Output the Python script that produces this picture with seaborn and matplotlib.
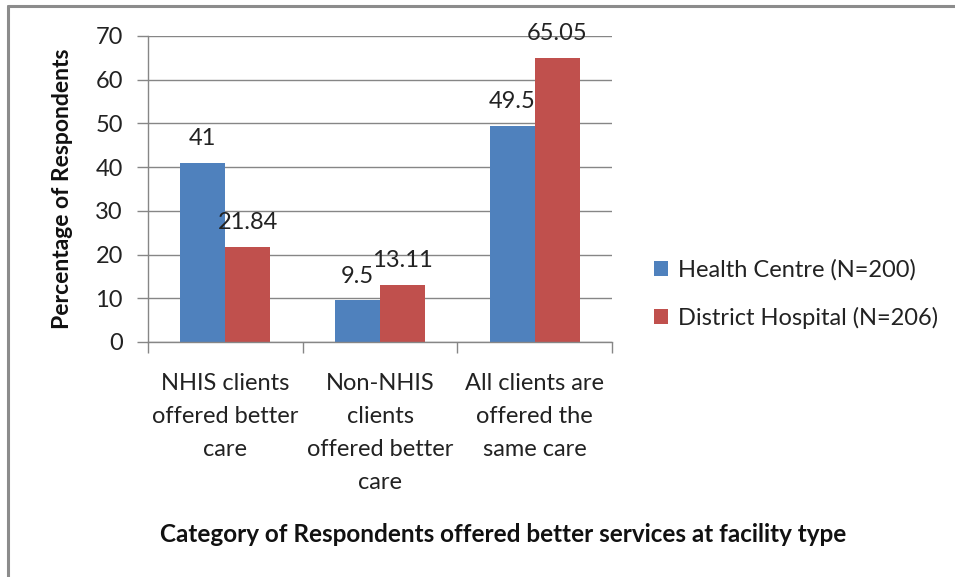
import matplotlib
matplotlib.use("Agg")
import matplotlib.pyplot as plt
from matplotlib.lines import Line2D
import seaborn as sns
import pandas as pd

categories = [
    "NHIS clients\noffered better\ncare",
    "Non-NHIS\nclients\noffered better\ncare",
    "All clients are\noffered the\nsame care",
]
series_names = ["Health Centre (N=200)", "District Hospital (N=206)"]
health_centre = [41, 9.5, 49.5]
district_hospital = [21.84, 13.11, 65.05]
y_ticks = [0, 10, 20, 30, 40, 50, 60, 70]

colors = ["#4F81BD", "#C0504D"]

sns.set_theme(style="white")
plt.rcParams["font.family"] = ["Lato", "DejaVu Sans"]

df = pd.DataFrame({
    "category": categories * 2,
    "series": [series_names[0]] * 3 + [series_names[1]] * 3,
    "value": health_centre + district_hospital,
})

fig = plt.figure(figsize=(9.55, 5.77), dpi=100)
ax = fig.add_axes([148 / 955, 1 - 342 / 577, (612 - 148) / 955, (342 - 36) / 577])

sns.barplot(data=df, x="category", y="value", hue="series", order=categories,
            hue_order=series_names, palette=colors, width=0.58, gap=0,
            saturation=1, errorbar=None, linewidth=0, ax=ax, legend=True)

for cont in ax.containers:
    ax.bar_label(cont, labels=[f"{v:g}" for v in cont.datavalues],
                 padding=10, fontsize=17, color="#222222")

ax.set_ylim(0, 70)
ax.set_yticks(y_ticks)
ax.set_xlim(-0.5, 2.5)
ax.yaxis.grid(True, color="#868686", linewidth=1)
ax.set_axisbelow(True)
for s in ["top", "right"]:
    ax.spines[s].set_visible(False)
for s in ["left", "bottom"]:
    ax.spines[s].set_color("#868686")
    ax.spines[s].set_linewidth(1)

ax.tick_params(axis="y", which="major", length=8, width=1, color="#868686",
               labelsize=17, labelcolor="#222222", pad=10, left=True)
ax.set_xticks([-0.5, 0.5, 1.5, 2.5], minor=True)
ax.tick_params(axis="x", which="minor", length=8, width=1, color="#868686",
               bottom=True)
ax.tick_params(axis="x", which="major", length=0, labelsize=17,
               labelcolor="#222222", pad=22)
for lbl in ax.get_xticklabels():
    lbl.set_linespacing(1.72)

ax.set_xlabel("")
ax.set_ylabel("Percentage of Respondents", fontsize=16.5, fontweight="bold",
              color="#111111", labelpad=16)

handles, labels = ax.get_legend_handles_labels()
ax.get_legend().remove()
fig.legend(handles, labels, loc="center left", bbox_to_anchor=(654 / 955, 1 - 294 / 577),
           frameon=False, fontsize=17, handlelength=0.6, handleheight=0.6,
           handletextpad=0.4, labelspacing=1.1, labelcolor="#222222",
           borderaxespad=0, borderpad=0)

fig.text(503 / 955, 1 - 535 / 577,
         "Category of Respondents offered better services at facility type",
         ha="center", va="center", fontsize=17.5, fontweight="bold", color="#111111")

# Outer frame (top and left edges)
fig.add_artist(Line2D([8 / 955, 1], [1 - 6 / 577, 1 - 6 / 577], transform=fig.transFigure,
                      color="#8C8C8C", linewidth=2.2))
fig.add_artist(Line2D([8 / 955, 8 / 955], [0, 1 - 6 / 577], transform=fig.transFigure,
                      color="#8C8C8C", linewidth=2.2))

fig.savefig("out.png", dpi=100, facecolor="white")
